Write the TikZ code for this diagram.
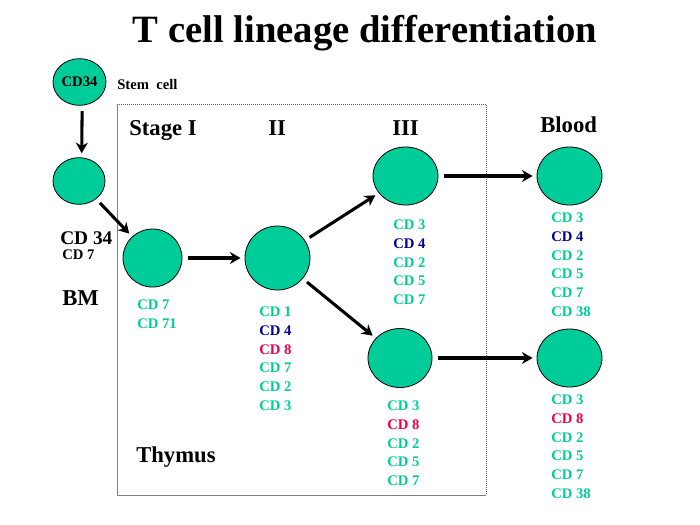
\documentclass[tikz,border=0pt]{standalone}
\usepackage{fontspec}
\setmainfont{Liberation Serif}
\usepackage{tikz}
\usetikzlibrary{shapes.geometric}
\usetikzlibrary{arrows.meta}
\tikzset{>={Stealth[length=8pt,width=9pt]}}
\usepackage{xcolor}
\definecolor{cellgreen}{RGB}{0,204,153}
\definecolor{cdblue}{RGB}{0,0,140}
\definecolor{cdred}{RGB}{232,0,80}
\tikzstyle{cell}=[ellipse,draw=black,fill=cellgreen,inner sep=0,line width=0.6pt]
\tikzstyle{marker}=[anchor=north west,inner sep=0,align=left,text=cellgreen,font=\bfseries\fontsize{11}{14}\selectfont]
\tikzstyle{heading}=[anchor=base west,inner sep=0,font=\bfseries\fontsize{17}{20}\selectfont]
\tikzstyle{flow}=[->,line width=2.3pt,shorten <=4pt,shorten >=3pt]
\newcommand{\cdb}[1]{\textcolor{cdblue}{#1}}
\newcommand{\cdr}[1]{\textcolor{cdred}{#1}}

\begin{document}
\begin{tikzpicture}[x=0.75pt,y=-0.75pt]
\useasboundingbox (0,0) rectangle (700,525);

\node[anchor=base,inner sep=0,font=\bfseries\fontsize{29}{33}\selectfont] (title) at (365,42) {T cell lineage differentiation};

% thymus box
\draw[gray,line width=0.5pt] (117,104) -- (117,495) -- (486,495);
\draw[gray!70!black,densely dotted,line width=0.5pt] (117,104) -- (486,104) -- (486,495);

\node[cell,minimum width=39.75pt,minimum height=35pt,font=\bfseries\fontsize{11}{13}\selectfont] (cs) at (79.5,82) {CD34};
\node[anchor=west,inner sep=0,font=\bfseries\fontsize{11}{13}\selectfont] (stem) at (117,84) {Stem\ \ cell};
\node[cell,minimum width=39pt,minimum height=35pt] (c0) at (79,181) {};

\node[cell,minimum width=44.25pt,minimum height=43.5pt] (cI) at (152.5,258) {};
\node[cell,minimum width=48.75pt,minimum height=48pt] (cII) at (277.5,258) {};
\node[cell,minimum width=48.75pt,minimum height=43.5pt] (cIIIa) at (405.5,176) {};
\node[cell,minimum width=48pt,minimum height=44.25pt] (cIIIb) at (400,358) {};
\node[cell,minimum width=48.75pt,minimum height=43.5pt] (cBa) at (569.5,176) {};
\node[cell,minimum width=48.75pt,minimum height=43.5pt] (cBb) at (569.5,358) {};

\node[heading] (stI) at (129,135) {Stage I};
\node[heading] (stII) at (268,135) {II};
\node[heading] (stIII) at (392,135) {III};
\node[heading] (blood) at (540,132) {Blood};
\node[heading] (bm) at (62,305.5) {BM};
\node[heading] (thymus) at (136,462) {Thymus};

\node[anchor=west,inner sep=0,font=\bfseries\fontsize{14.5}{17}\selectfont] (bmA) at (60,238) {CD 34};
\node[anchor=west,inner sep=0,font=\bfseries\fontsize{11}{13}\selectfont] (bmB) at (62,255) {CD 7};

\node[marker] (mI) at (137,300) {CD 7\\CD 71};
\node[marker] (mII) at (259,307) {CD 1\\\cdb{CD 4}\\\cdr{CD 8}\\CD 7\\CD 2\\CD 3};
\node[marker] (mIIIa) at (393,220) {CD 3\\\cdb{CD 4}\\CD 2\\CD 5\\CD 7};
\node[marker] (mIIIb) at (387,401) {CD 3\\\cdr{CD 8}\\CD 2\\CD 5\\CD 7};
\node[marker] (mBa) at (551,213) {CD 3\\\cdb{CD 4}\\CD 2\\CD 5\\CD 7\\CD 38};
\node[marker] (mBb) at (551,395) {CD 3\\\cdr{CD 8}\\CD 2\\CD 5\\CD 7\\CD 38};

\draw[flow] ([xshift=2pt]cs.south) -- ([xshift=2pt]c0.north);
\draw[flow] (c0) -- (cI);
\draw[flow] (cI) -- (cII);
\draw[flow] (cII) -- (cIIIa);
\draw[flow] (cII) -- (cIIIb);
\draw[flow] (cIIIa) -- (cBa);
\draw[flow] (cIIIb) -- (cBb);
\end{tikzpicture}
\end{document}
